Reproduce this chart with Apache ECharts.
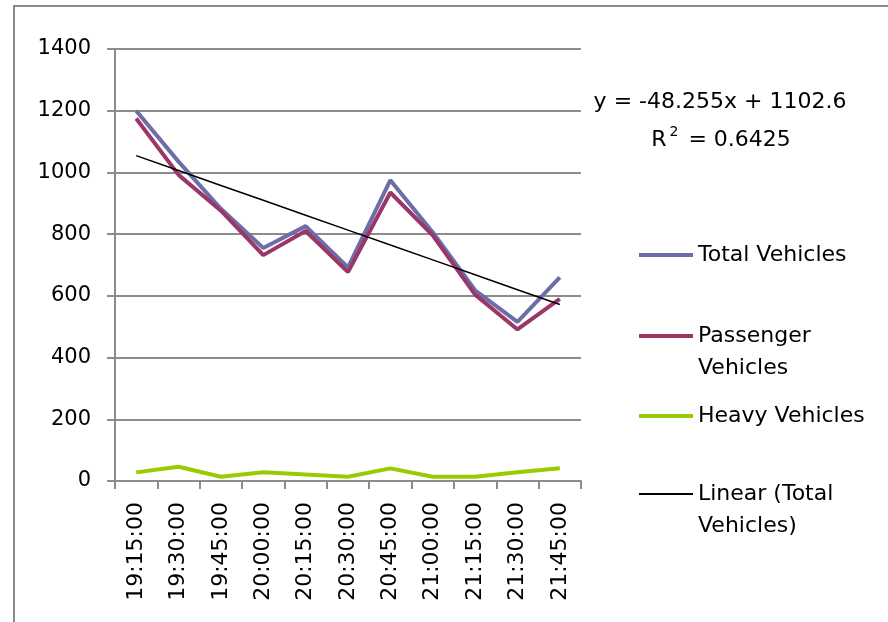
<!DOCTYPE html>
<html>
<head>
<meta charset="utf-8">
<script src="https://cdn.jsdelivr.net/npm/echarts@6/dist/echarts.min.js"></script>
<style>
  html, body { margin: 0; padding: 0; background: #fff; }
  #chart { width: 888px; height: 622px; }
</style>
</head>
<body>
<div id="chart"></div>
<script>
// 15-minute count intervals
const times = ['19:15:00', '19:30:00', '19:45:00', '20:00:00', '20:15:00', '20:30:00',
               '20:45:00', '21:00:00', '21:15:00', '21:30:00', '21:45:00'];

// vehicle counts per interval
const totalVehicles     = [1200, 1035, 882, 755, 826, 692, 975, 806, 618, 516, 660];
const passengerVehicles = [1175, 992, 876, 732, 810, 677, 935, 796, 604, 491, 590];
const heavyVehicles     = [28, 46, 14, 28, 21, 14, 41, 14, 14, 28, 41];

// linear trend fitted to total vehicles (x = 1..n)
const trendSlope = -48.255;
const trendIntercept = 1102.6;
const trendR2 = 0.6425;

const yTicks = { min: 0, max: 1400, step: 200 };

const trendValues = times.map((t, i) => +(trendSlope * (i + 1) + trendIntercept).toFixed(2));

const FONT = 'DejaVu Sans';
const GRID_GRAY = '#8c8c8c';

const names = {
  total: 'Total Vehicles',
  passenger: 'Passenger Vehicles',
  heavy: 'Heavy Vehicles',
  trend: 'Linear (Total Vehicles)'
};

const colors = {
  total: '#6d6da8',
  passenger: '#9b3766',
  heavy: '#98cc00',
  trend: '#000000'
};

// one legend block per entry so each can sit at its own height
function legendBlock(name, top, lineH, formatter) {
  return {
    data: [name],
    left: 639,
    top: top,
    orient: 'vertical',
    padding: 0,
    icon: 'rect',
    itemWidth: 54,
    itemHeight: lineH,
    selectedMode: false,
    formatter: formatter,
    textStyle: { fontFamily: FONT, fontSize: 22, color: '#000', lineHeight: 32 }
  };
}

const chart = echarts.init(document.getElementById('chart'), null, { renderer: 'canvas' });

chart.setOption({
  backgroundColor: '#ffffff',
  animation: false,
  grid: { left: 115, right: 307, top: 49, bottom: 141, containLabel: false },
  xAxis: {
    type: 'category',
    data: times,
    boundaryGap: true,
    axisLine: { show: true, lineStyle: { color: GRID_GRAY, width: 2 } },
    axisTick: { show: true, length: 8, alignWithLabel: false, lineStyle: { color: GRID_GRAY, width: 2 } },
    axisLabel: {
      rotate: 90,
      margin: 21,
      interval: 0,
      fontFamily: FONT,
      fontSize: 22,
      color: '#000'
    },
    splitLine: { show: false }
  },
  yAxis: {
    type: 'value',
    min: yTicks.min,
    max: yTicks.max,
    interval: yTicks.step,
    axisLine: { show: true, lineStyle: { color: GRID_GRAY, width: 2 } },
    axisTick: { show: true, length: 8, lineStyle: { color: GRID_GRAY, width: 2 } },
    axisLabel: {
      margin: 24, fontFamily: FONT, fontSize: 21, color: '#000',
      formatter: (v) => String(v)
    },
    splitLine: { show: true, lineStyle: { color: GRID_GRAY, width: 2 } }
  },
  legend: [
    legendBlock(names.total, 239, 4),
    legendBlock(names.passenger, 288, 4, () => ' \nPassenger\nVehicles'),
    legendBlock(names.heavy, 400, 4),
    legendBlock(names.trend, 446, 2, () => ' \nLinear (Total\nVehicles)')
  ],
  series: [
    {
      name: names.total, type: 'line', data: totalVehicles,
      symbol: 'none', color: colors.total,
      lineStyle: { width: 4, color: colors.total }
    },
    {
      name: names.passenger, type: 'line', data: passengerVehicles,
      symbol: 'none', color: colors.passenger,
      lineStyle: { width: 4, color: colors.passenger }
    },
    {
      name: names.heavy, type: 'line', data: heavyVehicles,
      symbol: 'none', color: colors.heavy,
      lineStyle: { width: 4, color: colors.heavy }
    },
    {
      name: names.trend, type: 'line', data: trendValues,
      symbol: 'none', color: colors.trend,
      lineStyle: { width: 1.5, color: colors.trend }
    }
  ],
  graphic: [
    {
      type: 'rect',
      silent: true,
      shape: { x: 14, y: 6, width: 900, height: 700 },
      style: { fill: 'none', stroke: '#8a8a8a', lineWidth: 2 }
    },
    {
      type: 'text',
      x: 720, y: 102,
      style: {
        text: 'y = ' + trendSlope + 'x + ' + trendIntercept,
        fontFamily: FONT, fontSize: 22, fill: '#000',
        align: 'center', verticalAlign: 'middle'
      }
    },
    {
      type: 'text',
      x: 721, y: 138,
      style: {
        text: '{r|R}{s|2}{r| = ' + trendR2 + '}',
        fontFamily: FONT, fill: '#000',
        align: 'center', verticalAlign: 'middle',
        rich: {
          r: { fontFamily: FONT, fontSize: 22, fill: '#000', lineHeight: 26, verticalAlign: 'bottom' },
          s: { fontFamily: FONT, fontSize: 14, fill: '#000', lineHeight: 26, verticalAlign: 'top', padding: [0, 3, 0, 3] }
        }
      }
    }
  ]
});
</script>
</body>
</html>
